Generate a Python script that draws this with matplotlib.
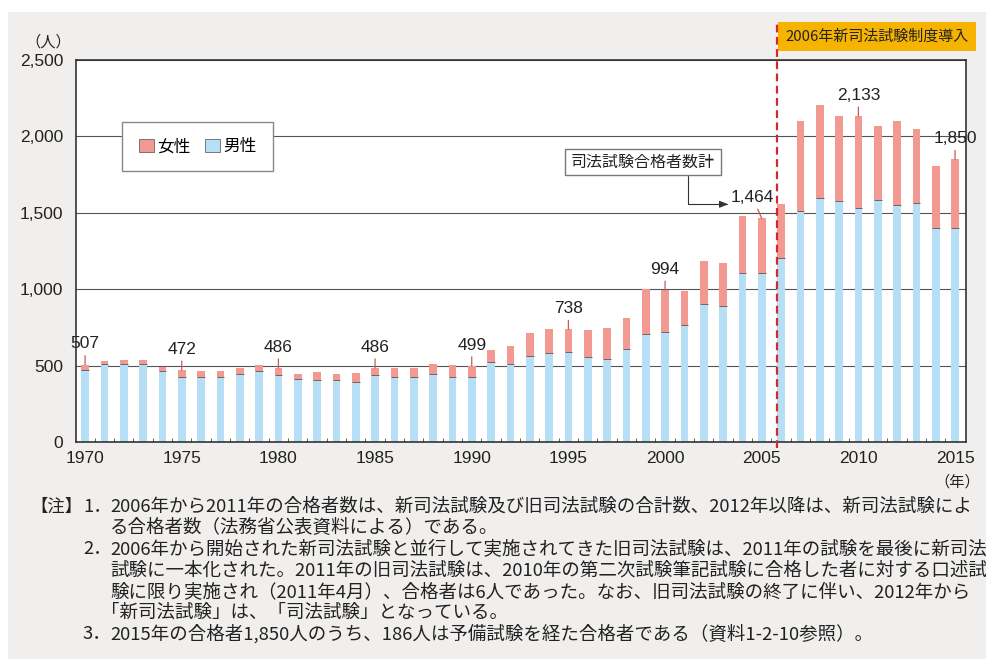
import matplotlib
matplotlib.use('Agg')
import matplotlib.pyplot as plt
from matplotlib.patches import Patch, Rectangle
import numpy as np

plt.rcParams['font.family'] = ['Liberation Sans', 'Noto Sans CJK JP', 'DejaVu Sans']

# data
years = list(range(1970, 2016))
male = [476, 509, 509, 509, 467, 428, 424, 428, 450, 467,
        439, 415, 407, 407, 396, 439, 424, 428, 450, 428,
        424, 526, 509, 563, 583, 589, 559, 544, 609, 707,
        722, 770, 907, 892, 1110, 1110, 1205, 1516, 1599, 1575,
        1534, 1582, 1553, 1567, 1401, 1401]
female = [31, 24, 28, 28, 24, 44, 41, 37, 35, 36,
          47, 31, 50, 41, 57, 47, 62, 61, 62, 78,
          75, 79, 121, 149, 157, 149, 175, 202, 203, 293,
          272, 220, 276, 278, 373, 354, 353, 583, 610, 560,
          599, 487, 549, 482, 409, 449]
label_years = [1970, 1975, 1980, 1985, 1990, 1995, 2000, 2005, 2010, 2015]
reform_year = 2006

notes = [
    "2006年から2011年の合格者数は、新司法試験及び旧司法試験の合計数、2012年以降は、新司法試験によ",
    "る合格者数（法務省公表資料による）である。",
    "2006年から開始された新司法試験と並行して実施されてきた旧司法試験は、2011年の試験を最後に新司法",
    "試験に一本化された。2011年の旧司法試験は、2010年の第二次試験筆記試験に合格した者に対する口述試",
    "験に限り実施され（2011年4月）、合格者は6人であった。なお、旧司法試験の終了に伴い、2012年から",
    "「新司法試験」は、「司法試験」となっている。",
    "2015年の合格者1,850人のうち、186人は予備試験を経た合格者である（資料1-2-10参照）。",
]
note_marks = ["1．", "", "2．", "", "", "", "3．"]

male_c = '#b6def5'
female_c = '#f29a92'

x = np.array(years)
m = np.array(male)
f = np.array(female)
total = m + f

fig = plt.figure(figsize=(9.87, 6.59), dpi=100)
fig.patch.set_facecolor('white')
fig.patches.append(Rectangle((8 / 987, 0), 1, (659 - 12) / 659, transform=fig.transFigure,
                             facecolor='#f1efed', edgecolor='none', zorder=-10))

ax = fig.add_axes([0.0770, 0.3288, 0.9014, 0.5801])
ax.set_facecolor('white')
w = 0.4
ax.bar(x, m, width=w, color=male_c, edgecolor='none', zorder=2)
ax.bar(x, f, width=w, bottom=m, color=female_c, edgecolor='none', zorder=2)
ax.hlines(m, x - w / 2, x + w / 2, color='#6b4a48', lw=0.6, zorder=3)

ax.set_xlim(1969.53, 2015.55)
ax.set_ylim(0, 2500)
ax.set_yticks(range(0, 2501, 500))
ax.yaxis.set_major_formatter(matplotlib.ticker.FuncFormatter(lambda v, p: f'{int(v):,}'))
ax.grid(axis='y', color='#555555', lw=0.8)
ax.set_axisbelow(True)
ax.tick_params(axis='y', length=0, pad=9, labelsize=12.5, colors='#222222')
ax.set_xticks(range(1970, 2016, 5))
ax.set_xticks(np.arange(1970.5, 2015, 1), minor=True)
ax.tick_params(axis='x', which='major', length=0, pad=6, labelsize=12.5, colors='#222222')
ax.tick_params(axis='x', which='minor', direction='in', length=3, color='#444444')
for s in ax.spines.values():
    s.set_color('#333333')
    s.set_linewidth(1.2)

# total labels with leader lines
for yr in label_years:
    i = years.index(yr)
    dx = -6.5 if yr == 2005 else 0
    a = ax.annotate(f'{total[i]:,}', xy=(yr, total[i]), xytext=(dx, 15),
                    textcoords='offset points', ha='center', va='center', fontsize=12.5,
                    color='#222222', zorder=5,
                    arrowprops=dict(arrowstyle='-', color='#c0605a', lw=0.9,
                                    shrinkA=1, shrinkB=0))
    if yr == 2005:
        lbl2005 = a

# box pointing at 2005 total
ax.annotate('司法試験合格者数計', xy=(0, 0.5), xycoords=lbl2005,
            xytext=(-63.4, 30.2), textcoords='offset points', ha='center', va='center',
            fontsize=11.5, color='#222222', zorder=6,
            bbox=dict(boxstyle='square,pad=0.35', fc='white', ec='#777777', lw=1),
            arrowprops=dict(arrowstyle='-|>,head_length=0.45,head_width=0.18',
                            color='#333333', lw=0.8, relpos=(0.81, 0), shrinkA=0, shrinkB=2,
                            connectionstyle='angle,angleA=90,angleB=0,rad=0'))

# reform marker
ax.plot([reform_year - 0.22] * 2, [-37, 2755], color='#d12a2a', lw=1.6,
        ls=(0, (3.5, 2)), clip_on=False, zorder=4)
ax.text(reform_year + 0.24, 2654, '2006年新司法試験制度導入', ha='left', va='center',
        fontsize=10.8, color='#222222', clip_on=False,
        family=['Noto Sans CJK JP', 'DejaVu Sans'],
        bbox=dict(boxstyle='square,pad=0.5', fc='#f6b400', ec='none'))

ax.text(-0.031, 1.047, '（人）', transform=ax.transAxes, ha='center', va='center',
        fontsize=11, color='#222222')
ax.text(0.991, -0.104, '（年）', transform=ax.transAxes, ha='center', va='center',
        fontsize=11, color='#222222')

leg = ax.legend(handles=[Patch(fc=female_c, ec='#666666', lw=0.6, label='女性'),
                         Patch(fc=male_c, ec='#666666', lw=0.6, label='男性')],
                loc='upper left', bbox_to_anchor=(0.0517, 0.838), borderaxespad=0,
                ncol=2, fancybox=False, framealpha=1, edgecolor='#888888',
                fontsize=12, handlelength=0.9, handleheight=0.9, handletextpad=0.2,
                columnspacing=0.9, borderpad=1.0)
leg.get_frame().set_linewidth(1.0)
leg.set_zorder(6)

# notes
nf = ['Noto Sans CJK JP', 'DejaVu Sans']
y0 = 659 - 507
for k, (mark, line) in enumerate(zip(note_marks, notes)):
    yy = (y0 - k * 21.2) / 659
    if k == 0:
        fig.text(30 / 987, yy, '【注】', fontsize=12.5, family=nf, va='center', color='#222222')
    if mark:
        fig.text(83 / 987, yy, mark, fontsize=13.3, family=nf, va='center', color='#222222')
    x0 = 101 if line.startswith('「') else 110
    fig.text(x0 / 987, yy, line, fontsize=13.3, family=nf, va='center', color='#222222')

fig.savefig('out.png', dpi=100, facecolor=fig.get_facecolor())
